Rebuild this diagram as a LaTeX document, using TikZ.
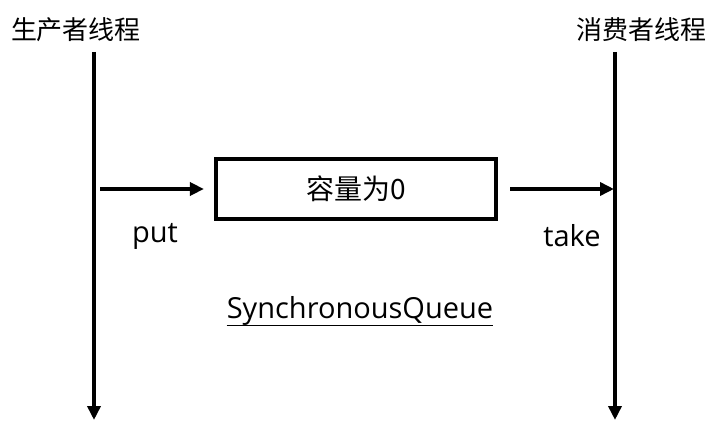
\documentclass[tikz,border=0pt]{standalone}
\usepackage{fontspec}
\setmainfont{Open Sans}
\newfontfamily\cjk{Noto Sans CJK SC}
\usepackage{tikz}
\usetikzlibrary{arrows.meta,positioning,shadows}

\begin{document}
\begin{tikzpicture}[x=1pt, y=-1pt,
  thread/.style={line width=4.2pt, -{Triangle[length=14pt,width=13pt]}},
  flow/.style={line width=4.2pt, -{Triangle[length=14pt,width=13pt]}},
  qbox/.style={draw, fill=white, line width=4.2pt, minimum width=280pt, minimum height=60pt,
    font=\cjk\fontsize{28}{32}\selectfont, drop shadow={opacity=0.2,shadow xshift=2pt,shadow yshift=-2pt}},
  title/.style={font=\cjk\fontsize{26}{30}\selectfont},
  lbl/.style={inner sep=0pt, font=\fontsize{29}{34}\selectfont}]
  \useasboundingbox (0,0) rectangle (716,436);

  % the two threads
  \node[title] (prod) at (76,30) {生产者线程};
  \node[title] (cons) at (641,30) {消费者线程};
  \coordinate (ptop) at (94,52);  \coordinate (pbot) at (94,420);
  \coordinate (ctop) at (615,52); \coordinate (cbot) at (615,420);
  \draw[thread] (ptop) -- (pbot);
  \draw[thread] (ctop) -- (cbot);

  % the queue with no capacity
  \node[qbox] (queue) at (356,189) {容量为0};
  \coordinate (pout) at (100,189);
  \coordinate (cin) at (614,189);
  \draw[flow, shorten >=10pt] (pout) -- (queue.west);
  \draw[flow, shorten <=12pt] (queue.east) -- (cin);
  \node[lbl] (put) at (155,236) {put};
  \node[lbl] (take) at (572,236) {take};

  \node[lbl] (sq) at (360,311) {SynchronousQueue};
  \draw[line width=1.8pt] ([yshift=-7pt]sq.base west) -- ([yshift=-7pt]sq.base east);
\end{tikzpicture}
\end{document}
